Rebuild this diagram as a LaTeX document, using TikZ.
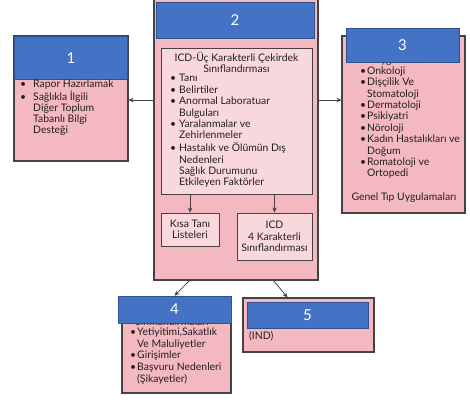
\documentclass[tikz,border=0pt]{standalone}
\usepackage{fontspec}
\setmainfont{Lato}
\usetikzlibrary{arrows.meta,calc}
\definecolor{pinkbg}{RGB}{244,184,192}
\definecolor{pinkin}{RGB}{249,216,221}
\definecolor{hblue}{RGB}{68,114,196}
\definecolor{hedge}{RGB}{47,82,143}
\definecolor{edgec}{RGB}{70,66,68}
\definecolor{ink}{RGB}{35,31,32}
\newcommand{\bl}{\textbullet}
\begin{document}
\begin{tikzpicture}[x=1pt,y=-1pt,
  outerbox/.style={draw=edgec,line width=1.1pt,fill=pinkbg,inner sep=0pt},
  innerbox/.style={draw=edgec,line width=0.9pt,fill=pinkin,inner sep=0pt,text=ink,align=center,font=\fontsize{10.4}{11.5}\selectfont},
  hdr/.style={draw=hedge,line width=0.6pt,fill=hblue,text=white,inner sep=0pt,font=\fontsize{15}{15}\selectfont},
  txt/.style={text=ink,inner sep=0pt,align=left},
  arr/.style={draw=edgec,line width=0.8pt,-{Stealth[length=5pt,width=4.5pt]}}
]
\useasboundingbox (0,0) rectangle (470,402);
% outer boxes
\node[outerbox,minimum width=114pt,minimum height=125pt] (b1) at (71,98.5) {};
\node[outerbox,minimum width=164pt,minimum height=283pt] (b2) at (236,138.5) {};
\node[outerbox,minimum width=123pt,minimum height=177pt] (b3) at (403.5,124.5) {};
\node[outerbox,minimum width=109pt,minimum height=96pt] (b4) at (176.5,345) {};
\node[outerbox,minimum width=131pt,minimum height=54pt] (b5) at (308.5,325) {};
% partly hidden text lines
\node[txt,font=\fontsize{10.4}{11.4}\selectfont] (h3) at (403,60.6) {Uygulamaları};
\node[txt,font=\fontsize{10.4}{11.75}\selectfont] (h4) at (172,321.3) {Sınıflandırmaları};
% headers
\node[hdr,minimum width=113pt,minimum height=43pt] (t1) at (71,58) {1};
\node[hdr,minimum width=158pt,minimum height=36pt] (t2) at (235,20) {2};
\node[hdr,minimum width=113pt,minimum height=34pt] (t3) at (402.5,45) {3};
\node[hdr,minimum width=113pt,minimum height=27pt] (t4) at (174.5,309.5) {4};
\node[hdr,minimum width=121pt,minimum height=26pt] (t5) at (307.5,315) {5};
% box 1 text
\node[txt,anchor=west,font=\fontsize{10.4}{11}\selectfont] (l1) at (20,108) {%
\begin{tabular}{@{}p{13pt}@{}l@{}}
\bl & Rapor Hazırlamak\\
\bl & Sağlıkla İlgili\\
 & Diğer Toplum\\
 & Tabanlı Bilgi\\
 & Desteği
\end{tabular}};
% box 2 inner
\node[innerbox,minimum width=151pt,minimum height=146pt] (in) at (236.5,121) {};
\node[txt,align=center,font=\fontsize{10.4}{11.45}\selectfont] (ti) at (236.5,62.5) {ICD-Üç Karakterli Çekirdek\\Sınıflandırması};
\node[txt,anchor=west,font=\fontsize{10.4}{11.45}\selectfont] (l2) at (170,131.5) {%
\begin{tabular}{@{}p{9pt}@{}l@{}}
\bl & Tanı\\
\bl & Belirtiler\\
\bl & Anormal Laboratuar\\
 & Bulguları\\
\bl & Yaralanmalar ve\\
 & Zehirlenmeler\\
\bl & Hastalık ve Ölümün Dış\\
 & Nedenleri\\
 & Sağlık Durumunu\\
 & Etkileyen Faktörler
\end{tabular}};
\node[innerbox,minimum width=58pt,minimum height=33pt] (kisa) at (190,229.5) {Kısa Tanı\\Listeleri};
\node[innerbox,minimum width=75pt,minimum height=47pt] (icd) at (274.5,236.5) {ICD\\4 Karakterli\\Sınıflandırması};
% box 3 text
\node[txt,anchor=west,font=\fontsize{10.4}{11.4}\selectfont] (l3) at (360,123.3) {%
\begin{tabular}{@{}p{7pt}@{}l@{}}
\bl & Onkoloji\\
\bl & Dişçilik Ve\\
 & Stomatoloji\\
\bl & Dermatoloji\\
\bl & Psikiyatri\\
\bl & Nöroloji\\
\bl & Kadın Hastalıkları ve\\
 & Doğum\\
\bl & Romatoloji ve\\
 & Ortopedi
\end{tabular}};
\node[txt,font=\fontsize{10.4}{11.4}\selectfont] (g3) at (404,198) {Genel Tıp Uygulamaları};
% box 4 text
\node[txt,anchor=west,font=\fontsize{10.4}{11.75}\selectfont] (l4) at (130,356.5) {%
\begin{tabular}{@{}p{7pt}@{}l@{}}
\bl & Yetiyitimi,Sakatlık\\
 & Ve Maluliyetler\\
\bl & Girişimler\\
\bl & Başvuru Nedenleri\\
 & (Şikayetler)
\end{tabular}};
% box 5 text
\node[txt,anchor=west,font=\fontsize{10.4}{11}\selectfont] (l5) at (249,336) {(IND)};
% connectors
\draw[arr] (b2.west |- 0,100) -- (b1.east |- 0,100);
\draw[arr] (b2.east |- 0,100) -- (b3.west |- 0,100);
\draw[arr] (in.south -| kisa.north) -- (kisa.north);
\draw[arr] (in.south -| icd.north) -- (icd.north);
\draw[arr] ($(b2.south west)+(36,0)$) -- (t4.north);
\draw[arr] ($(b2.south west)+(120,0)$) -- ($(b5.north west)+(45,0)$);
\end{tikzpicture}
\end{document}
